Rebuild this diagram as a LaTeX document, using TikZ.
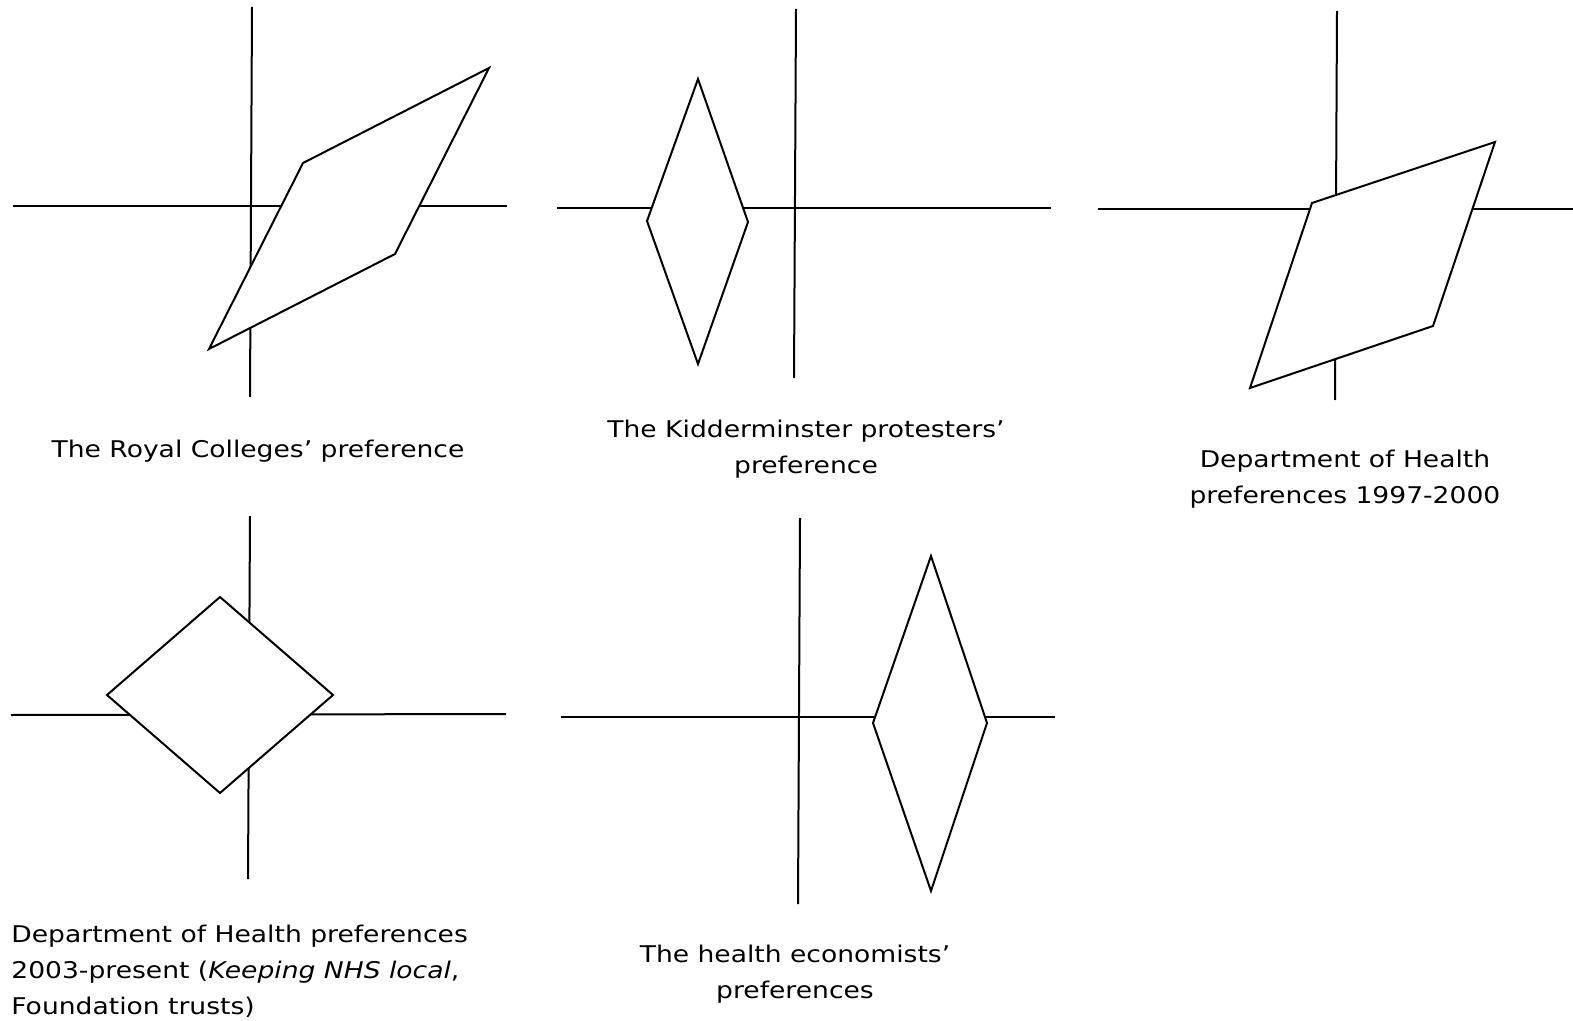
\documentclass[tikz,border=0pt]{standalone}
\usepackage{fontspec}
\setmainfont{DejaVu Sans}[FakeStretch=1.155]
\begin{document}
\begin{tikzpicture}[x=0.5pt,y=-0.5pt,
  axis/.style={line width=1pt},
  shapeline/.style={line width=1pt, line join=miter, fill=white},
  lbl/.style={inner sep=0pt, font=\fontsize{11.5}{18}\selectfont, align=center}]
\useasboundingbox (0,0) rectangle (1573,1021);
% Panel 1
\draw[axis] (252,7) -- (250,397);
\draw[axis] (13,206) -- (507,206);
\draw[shapeline] (303,163) -- (489,68) -- (395,254) -- (209,349) -- cycle;
\node[lbl] (l1) at (258,451) {The Royal Colleges’ preference};
% Panel 2
\draw[axis] (796,9) -- (794,378);
\draw[axis] (557,208) -- (1051,208);
\draw[shapeline] (698,79) -- (748,222) -- (698,364) -- (647,221) -- cycle;
\node[lbl] (l2) at (806,449) {The Kidderminster protesters’\\preference};
% Panel 3
\draw[axis] (1337,11) -- (1335,400);
\draw[axis] (1098,209) -- (1573,209);
\draw[shapeline] (1312,203) -- (1495,142) -- (1433,326) -- (1250,388) -- cycle;
\node[lbl] (l3) at (1345,479) {Department of Health\\preferences 1997-2000};
% Panel 4
\draw[axis] (250,516) -- (248,879);
\draw[axis] (11,715) -- (506,714);
\draw[shapeline] (220,597) -- (333,695) -- (220,793) -- (107,695) -- cycle;
\node[lbl, align=left, anchor=west] (l4) at (11,971) {Department of Health preferences\\2003-present (\textit{Keeping NHS local},\\Foundation trusts)};
% Panel 5
\draw[axis] (800,518) -- (798,904);
\draw[axis] (561,717) -- (1055,717);
\draw[shapeline] (931,556) -- (987,723) -- (931,891) -- (873,723) -- cycle;
\node[lbl] (l5) at (795,974) {The health economists’\\preferences};
\end{tikzpicture}
\end{document}
